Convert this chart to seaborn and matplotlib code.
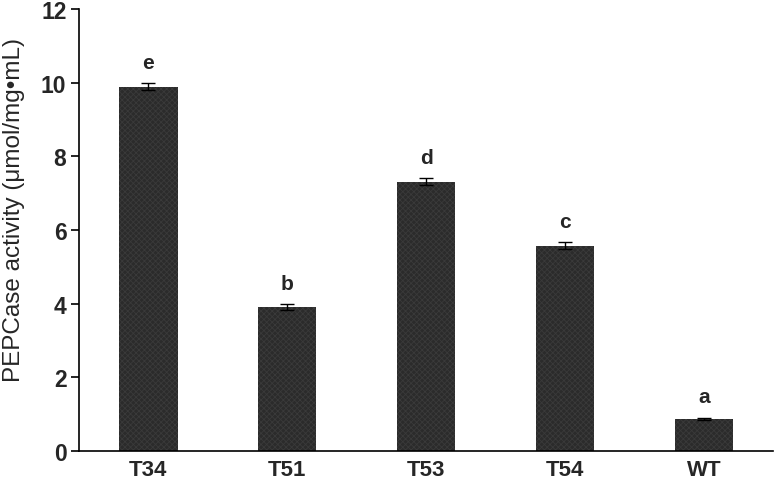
import matplotlib
matplotlib.use("Agg")
import matplotlib.pyplot as plt
import seaborn as sns
import pandas as pd
import numpy as np

categories = ["T34", "T51", "T53", "T54", "WT"]
values = [9.9, 3.92, 7.32, 5.58, 0.88]
errors = [0.1, 0.08, 0.1, 0.1, 0.03]
letters = ["e", "b", "d", "c", "a"]
yticks = [0, 2, 4, 6, 8, 10, 12]

sns.set_theme(style="white")
plt.rcParams['font.family'] = ['Liberation Sans', 'DejaVu Sans']
plt.rcParams['hatch.color'] = '#6a6a6a'
plt.rcParams['hatch.linewidth'] = 0.6

df = pd.DataFrame({"cat": categories, "val": values})

fig = plt.figure(figsize=(7.74, 4.85), dpi=100)
ax = fig.add_axes([0.102, 0.068, 0.897, 0.911])

sns.barplot(data=df, x="cat", y="val", ax=ax, color="#2b2b2b", width=0.42,
            errorbar=None, saturation=1)
for p in ax.patches:
    p.set_hatch("xxxxxx")
    p.set_edgecolor("#3a3a3a")
    p.set_linewidth(0.0)

xpos = np.arange(len(categories))
ax.errorbar(xpos, values, yerr=errors, fmt="none", ecolor="black",
            elinewidth=1.0, capsize=5, capthick=1.0)

for i, (v, e, l) in enumerate(zip(values, errors, letters)):
    ax.text(i, v + e + 0.3, l, ha="center", va="bottom", fontsize=15,
            fontweight="bold")

ax.set_xlim(-0.5, len(categories) - 0.5)
ax.set_ylim(0, 12)
ax.set_yticks(yticks)
ax.set_yticklabels([str(t) for t in yticks], fontsize=16.5, fontweight="bold")
ax.set_xticks(xpos)
ax.set_xticklabels(categories, fontsize=16, fontweight="bold")
ax.set_xticks(np.arange(len(categories) + 1) - 0.5, minor=True)
ax.tick_params(axis="x", which="major", length=0, pad=6)
ax.tick_params(axis="x", which="minor", length=6, width=1.2, direction="out",
               color="black")
ax.tick_params(axis="y", length=6, width=1.2, direction="out", color="black",
               left=True, pad=3)
ax.set_xlabel("")
ax.set_ylabel("PEPCase activity (μmol/mg•mL)", fontsize=17.5)
ax.yaxis.set_label_coords(-0.077, 0.547)

for s in ["top", "right"]:
    ax.spines[s].set_visible(False)
for s in ["left", "bottom"]:
    ax.spines[s].set_color("black")
    ax.spines[s].set_linewidth(1.2)

fig.savefig("out.png", dpi=100)
